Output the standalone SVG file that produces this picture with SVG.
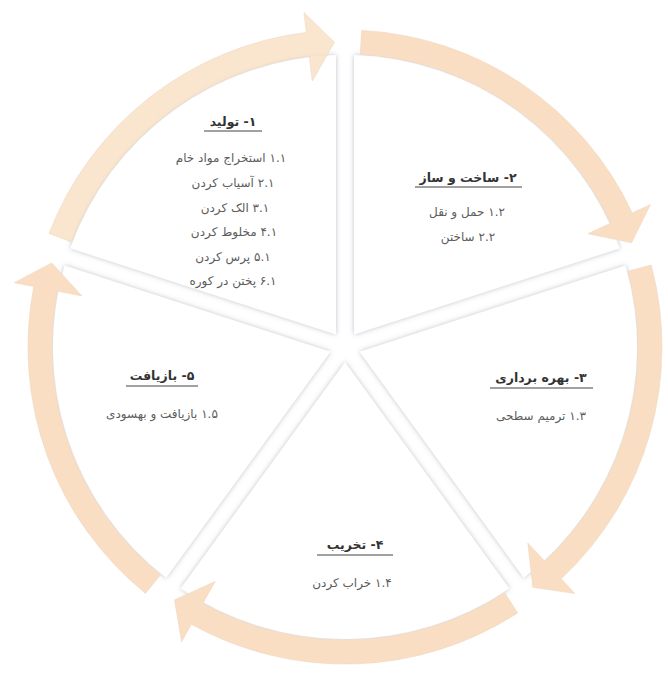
<svg xmlns="http://www.w3.org/2000/svg" width="668" height="677" viewBox="0 0 668 677">
<style>
.slice{fill:#ffffff;filter:url(#sh)}
.arrow{fill:#F9DEC3;stroke:#eed6bf;stroke-width:0.6}
.t{font-family:"DejaVu Sans",sans-serif;direction:rtl;text-anchor:middle;unicode-bidi:embed}
.title{font-size:12.5px;font-weight:bold;fill:#333333}
.item{font-size:12px;fill:#5c5c5c}
.ul{stroke:#444444;stroke-width:1.2}
</style>
<defs>
<filter id="sh" x="-10%" y="-10%" width="120%" height="120%">
<feDropShadow dx="0" dy="0" stdDeviation="2.5" flood-color="#7a8298" flood-opacity="0.5"/>
</filter>
</defs>
<rect width="668" height="677" fill="#ffffff"/>
<g id="slices">
<path class="slice" d="M336,334.6 L70.2,248.3 A292,292 0 0 1 336,55.1 Z"/>
<path class="slice" d="M354,334.6 L354,55.1 A292,292 0 0 1 619.8,248.3 Z"/>
<path class="slice" d="M359.6,351.7 L625.4,265.4 A292,292 0 0 1 523.8,577.8 Z"/>
<path class="slice" d="M345,362.3 L509.3,588.4 A292,292 0 0 1 180.7,588.4 Z"/>
<path class="slice" d="M330.4,351.7 L166.2,577.8 A292,292 0 0 1 64.6,265.4 Z"/>
</g>
<g id="connectors">
<path class="arrow" fill-opacity="0.8" d="M49.1,233.4 A317,317 0 0 1 306.4,32.4 L303.9,12.5 L334.4,42.2 L312.3,81.0 L309.3,56.2 A293,293 0 0 0 71.5,242.0 Z"/>
<path class="arrow" d="M361.6,30.4 A317,317 0 0 1 632.3,213.0 L650.4,204.6 L631.6,242.7 L587.9,233.7 L610.6,223.2 A293,293 0 0 0 360.3,54.4 Z"/>
<path class="arrow" d="M651.2,265.0 A317,317 0 0 1 561.2,578.8 L574.8,593.5 L532.8,587.3 L527.8,543.0 L544.8,561.3 A293,293 0 0 0 628.0,271.2 Z"/>
<path class="arrow" d="M517.7,612.9 A317,317 0 0 1 191.3,624.3 L181.6,641.8 L174.5,599.9 L215.1,581.4 L203.0,603.3 A293,293 0 0 0 504.6,592.7 Z"/>
<path class="arrow" d="M145.5,593.4 A317,317 0 0 1 33.8,286.5 L14.2,282.7 L51.8,262.9 L81.9,295.9 L57.4,291.1 A293,293 0 0 0 160.6,574.7 Z"/>
</g>
<g id="node1">
<text class="t title" x="233" y="126">۱- تولید</text>
<line class="ul" x1="204" y1="131" x2="262" y2="131"/>
<text class="t item" x="231" y="162">۱.۱ استخراج مواد خام</text>
<text class="t item" x="233" y="187">۲.۱ آسیاب کردن</text>
<text class="t item" x="235" y="212">۳.۱ الک کردن</text>
<text class="t item" x="234" y="236">۴.۱ مخلوط کردن</text>
<text class="t item" x="233" y="261">۵.۱ پرس کردن</text>
<text class="t item" x="233" y="285">۶.۱ پختن در کوره</text>
</g>
<g id="node2">
<text class="t title" x="468" y="182">۲- ساخت و ساز</text>
<line class="ul" x1="415" y1="187" x2="522" y2="187"/>
<text class="t item" x="467" y="216">۱.۲ حمل و نقل</text>
<text class="t item" x="468" y="241">۲.۲ ساختن</text>
</g>
<g id="node3">
<text class="t title" x="541" y="382">۳- بهره برداری</text>
<line class="ul" x1="490" y1="388" x2="593" y2="388"/>
<text class="t item" x="541" y="420">۱.۳ ترمیم سطحی</text>
</g>
<g id="node4">
<text class="t title" x="355" y="549">۴- تخریب</text>
<line class="ul" x1="317" y1="555" x2="393" y2="555"/>
<text class="t item" x="352" y="587">۱.۴ خراب کردن</text>
</g>
<g id="node5">
<text class="t title" x="162" y="380">۵- بازیافت</text>
<line class="ul" x1="126" y1="386" x2="198" y2="386"/>
<text class="t item" x="162" y="418">۱.۵ بازیافت و بهسودی</text>
</g>
</svg>
